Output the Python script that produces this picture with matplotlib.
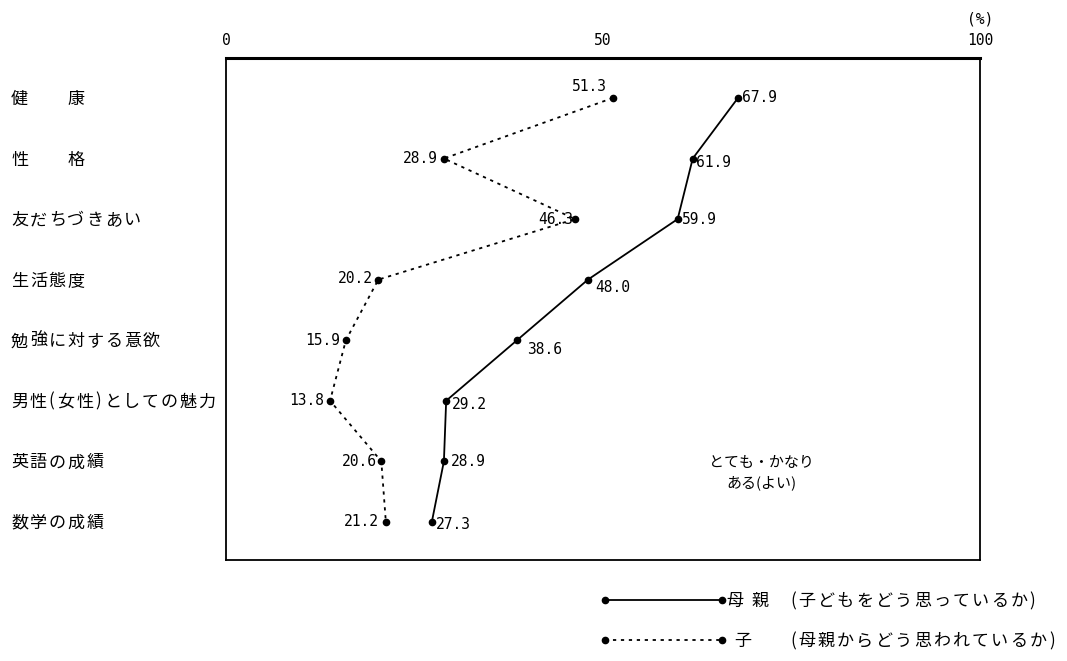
import matplotlib.pyplot as plt
import matplotlib.transforms as mtrans
import numpy as np

plt.rcParams['font.family'] = ['Noto Sans CJK JP', 'DejaVu Sans']

categories = ['健　　康', '性　　格', '友だちづきあい', '生活態度', '勉強に対する意欲',
              '男性(女性)としての魅力', '英語の成績', '数学の成績']
mother = [67.9, 61.9, 59.9, 48.0, 38.6, 29.2, 28.9, 27.3]
child = [51.3, 28.9, 46.3, 20.2, 15.9, 13.8, 20.6, 21.2]
xticks = [0, 50, 100]

W, H = 1067, 661
num_font = 'DejaVu Sans Mono'
dotted = (0, (1.8, 2.6))

y = np.arange(len(categories))

fig = plt.figure(figsize=(W / 100, H / 100), dpi=100)
ax = fig.add_axes([226 / W, 1 - 560 / H, 754 / W, 502 / H])

ax.plot(mother, y, color='black', lw=1.3, marker='o', ms=4.5)
ax.plot(child, y, color='black', lw=1.3, ls=dotted, marker='o', ms=4.5)

# label offsets in points (dx, dy)
mother_off = [(3, 0), (2, -3), (3, 0), (5, -6), (7, -7), (4, -3), (5, 0), (3, -2)]
child_off = [(-4, 8), (-4, 0), (-1, 0), (-4, 1), (-4, 0), (-4, 0), (-3, 0), (-5, 0)]

for v, yy, (dx, dy) in zip(mother, y, mother_off):
    ax.annotate(f'{v:.1f}', (v, yy), xytext=(dx, dy), textcoords='offset points',
                ha='left', va='center', fontsize=10.5, family=num_font)
for v, yy, (dx, dy) in zip(child, y, child_off):
    ax.annotate(f'{v:.1f}', (v, yy), xytext=(dx, dy), textcoords='offset points',
                ha='right', va='center', fontsize=10.5, family=num_font)

ax.set_xlim(0, 100)
ax.set_ylim(len(categories) - 1 + 0.63, -0.66)
ax.xaxis.tick_top()
ax.set_xticks(xticks)
ax.set_xticklabels([str(t) for t in xticks], fontsize=10.5, family=num_font)
ax.tick_params(axis='x', length=0, pad=7)
ax.set_yticks([])
for s in ax.spines.values():
    s.set_linewidth(1.3)
ax.spines['top'].set_linewidth(2.2)

# shift so that a baseline-aligned CJK glyph is centred on the row
down = mtrans.ScaledTranslation(0, -6 / 100, fig.dpi_scale_trans)


def typed(x0, yy, s, trans, pitch=19, half=9, **kw):
    # typewriter-like fixed pitch: x0 and pitch in pixels
    x = x0
    for ch in s:
        ax.text(x / 100, yy, ch, transform=trans + down, ha='left', va='baseline',
                clip_on=False, **kw)
        x += half if ch in '()' else pitch


row = mtrans.blended_transform_factory(fig.dpi_scale_trans, ax.transData)
for lbl, yy in zip(categories, y):
    typed(11, yy, lbl, row, pitch=18.8, fontsize=12.3)

ax.text(100, -1.3, '(%)', ha='center', va='center', fontsize=10.5, family=num_font)
ax.text(71, 6.2, 'とても・かなり\nある(よい)', ha='center', va='center',
        fontsize=10.8, linespacing=1.45)

# legend drawn below the axes
fig.lines.append(plt.Line2D([605 / W, 722 / W], [1 - 600 / H, 1 - 600 / H],
                            color='black', lw=1.3, marker='o', ms=4.5,
                            transform=fig.transFigure))
fig.lines.append(plt.Line2D([605 / W, 722 / W], [1 - 640 / H, 1 - 640 / H],
                            color='black', lw=1.3, ls=dotted, marker='o', ms=4.5,
                            transform=fig.transFigure))
px = fig.dpi_scale_trans
typed(726, (H - 600) / 100, '母', px, fontsize=12.3)
typed(751, (H - 600) / 100, '親', px, fontsize=12.3)
typed(790, (H - 600) / 100, '(子どもをどう思っているか)', px, pitch=19.3, half=8, fontsize=12.3)
typed(734, (H - 640) / 100, '子', px, fontsize=12.3)
typed(790, (H - 640) / 100, '(母親からどう思われているか)', px, pitch=19.3, half=8, fontsize=12.3)

fig.savefig('out.png', dpi=100)
